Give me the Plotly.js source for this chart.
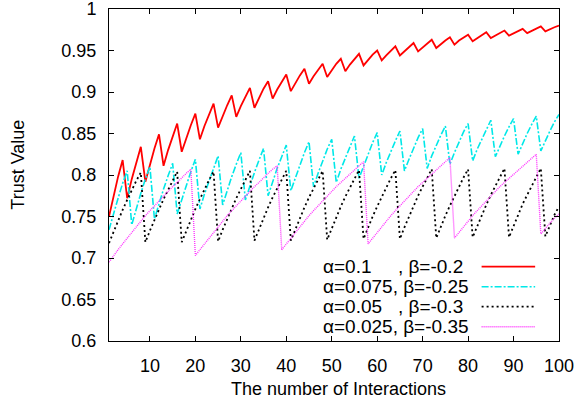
<!DOCTYPE html>
<html>
<head>
<meta charset="utf-8">
<script src="https://cdn.plot.ly/plotly-3.0.1.min.js"></script>
<style>html,body{margin:0;padding:0;background:#fff;}#chart{width:577px;height:407px;}</style>
</head>
<body>
<div id="chart"></div>
<script>
var interactions = [1,2,3,4,5,6,7,8,9,10,11,12,13,14,15,16,17,18,19,20,
21,22,23,24,25,26,27,28,29,30,31,32,33,34,35,36,37,38,39,40,
41,42,43,44,45,46,47,48,49,50,51,52,53,54,55,56,57,58,59,60,
61,62,63,64,65,66,67,68,69,70,71,72,73,74,75,76,77,78,79,80,
81,82,83,84,85,86,87,88,89,90,91,92,93,94,95,96,97,98,99,100];

var trustA01 = [0.750,0.775,0.798,0.818,0.772,0.795,0.816,0.834,0.792,0.813,
0.832,0.849,0.811,0.830,0.847,0.862,0.828,0.845,0.860,0.874,
0.843,0.859,0.873,0.886,0.857,0.871,0.884,0.896,0.870,0.883,
0.894,0.905,0.881,0.893,0.904,0.913,0.892,0.903,0.912,0.921,
0.901,0.911,0.920,0.928,0.910,0.919,0.927,0.934,0.918,0.926,
0.934,0.940,0.925,0.933,0.940,0.946,0.932,0.939,0.945,0.950,
0.938,0.944,0.950,0.955,0.944,0.949,0.954,0.959,0.949,0.954,
0.958,0.963,0.953,0.958,0.962,0.966,0.957,0.962,0.965,0.969,
0.961,0.965,0.968,0.972,0.965,0.968,0.971,0.974,0.968,0.971,
0.974,0.976,0.971,0.974,0.976,0.979,0.973,0.976,0.978,0.980];

var trustA0075 = [0.734,0.754,0.772,0.790,0.805,0.740,0.760,0.778,0.795,0.810,
0.747,0.766,0.783,0.799,0.814,0.753,0.771,0.788,0.804,0.819,
0.759,0.777,0.793,0.809,0.823,0.764,0.782,0.798,0.813,0.827,
0.770,0.787,0.803,0.818,0.832,0.775,0.792,0.808,0.822,0.836,
0.781,0.797,0.812,0.827,0.840,0.786,0.802,0.817,0.831,0.843,
0.791,0.807,0.821,0.835,0.847,0.796,0.811,0.826,0.839,0.851,
0.800,0.815,0.829,0.841,0.853,0.805,0.819,0.833,0.845,0.856,
0.808,0.823,0.836,0.848,0.859,0.813,0.827,0.840,0.852,0.862,
0.817,0.831,0.843,0.855,0.866,0.822,0.835,0.847,0.858,0.868,
0.825,0.838,0.850,0.861,0.871,0.829,0.842,0.853,0.864,0.873];

var trustA005 = [0.718,0.732,0.746,0.758,0.770,0.782,0.793,0.803,
0.719,0.733,0.746,0.759,0.771,0.782,0.793,0.804,
0.719,0.733,0.747,0.759,0.771,0.783,0.794,0.804,
0.720,0.734,0.747,0.760,0.772,0.783,0.794,0.805,
0.721,0.735,0.748,0.761,0.773,0.784,0.795,0.805,
0.721,0.735,0.749,0.761,0.773,0.784,0.795,0.805,
0.722,0.736,0.749,0.762,0.774,0.785,0.796,0.806,
0.723,0.737,0.750,0.762,0.774,0.785,0.796,0.806,
0.723,0.737,0.750,0.763,0.775,0.786,0.797,0.807,
0.724,0.738,0.751,0.763,0.775,0.786,0.797,0.807,
0.725,0.738,0.752,0.764,0.776,0.787,0.798,0.808,
0.725,0.739,0.752,0.765,0.776,0.787,0.798,0.808,
0.726,0.740,0.752,0.762];

var trustA0025 = [0.695,0.703,0.710,0.717,0.724,0.731,0.738,0.745,0.751,0.757,0.763,0.769,0.775,0.781,0.786,0.791,0.797,0.802,0.807,
0.703,0.710,0.717,0.724,0.731,0.738,0.744,0.751,0.757,0.763,0.769,0.775,0.781,0.786,0.791,0.797,0.802,0.807,0.811,
0.710,0.717,0.724,0.731,0.738,0.744,0.751,0.757,0.763,0.769,0.775,0.780,0.786,0.791,0.796,0.802,0.807,0.811,0.816,
0.717,0.724,0.731,0.738,0.744,0.751,0.757,0.763,0.769,0.775,0.780,0.786,0.791,0.796,0.801,0.806,0.811,0.816,0.821,
0.724,0.731,0.738,0.744,0.751,0.757,0.763,0.769,0.775,0.780,0.786,0.791,0.796,0.801,0.806,0.811,0.816,0.821,0.825,
0.729,0.736,0.742,0.748,0.753];

var seriesNames = ["\u03b1=0.1\u00a0\u00a0\u00a0\u00a0\u00a0, \u03b2=-0.2",
                   "\u03b1=0.075, \u03b2=-0.25",
                   "\u03b1=0.05\u00a0\u00a0\u00a0, \u03b2=-0.3",
                   "\u03b1=0.025, \u03b2=-0.35"];
var xTickVals = [10,20,30,40,50,60,70,80,90,100];
var yTickVals = [0.6,0.65,0.7,0.75,0.8,0.85,0.9,0.95,1];
var yTickText = ["0.6","0.65","0.7","0.75","0.8","0.85","0.9","0.95","1"];

var colors = ["#ff0000","#00e8e8","#000000","#ff33ff"];
var dashes = ["solid","7px,2px,2px,2px","2px,3px","1px,1px"];
var widths = [1.8,1.6,1.8,1.4];
var ys = [trustA01, trustA0075, trustA005, trustA0025];

var FONT = "Liberation Sans, Arial, Helvetica, sans-serif";
var traces = ys.map(function(y, i){
  return {x: interactions, y: y, type: "scatter", mode: "lines", name: seriesNames[i],
          line: {color: colors[i], width: widths[i], dash: dashes[i]}, showlegend: false};
});

var annotations = [];
var shapes = [];
var rowY = [0.2238, 0.1636, 0.1033, 0.0431];
for (var i = 0; i < 4; i++) {
  annotations.push({text: seriesNames[i], xref: "paper", yref: "paper", x: 0.47, y: rowY[i],
    xanchor: "left", yanchor: "middle", showarrow: false, font: {family: FONT, size: 19, color: "#000"}});
  shapes.push({type: "line", xref: "paper", yref: "paper", x0: 0.828, x1: 0.947, y0: rowY[i], y1: rowY[i],
    line: {color: colors[i], width: widths[i], dash: dashes[i]}});
}
annotations.push({text: "Trust Value", xref: "paper", yref: "paper", x: -0.203, y: 0.53, textangle: -90,
  xanchor: "center", yanchor: "middle", showarrow: false, font: {family: FONT, size: 18, color: "#000"}});
annotations.push({text: "The number of Interactions", xref: "paper", yref: "paper", x: 0.51, y: -0.145,
  xanchor: "center", yanchor: "middle", showarrow: false, font: {family: FONT, size: 18, color: "#000"}});

var layout = {
  width: 577, height: 407,
  margin: {l: 109, r: 18, t: 9, b: 66},
  paper_bgcolor: "#fff", plot_bgcolor: "#fff",
  font: {family: FONT, size: 18, color: "#000"},
  xaxis: {range: [1, 100], tickvals: xTickVals, ticks: "inside", ticklen: 5, tickwidth: 1, tickcolor: "#000",
          showline: true, linecolor: "#000", linewidth: 1, mirror: "ticks", showgrid: false, zeroline: false,
          ticklabelstandoff: 8, ticklabeloverflow: "allow"},
  yaxis: {range: [0.6, 1], tickvals: yTickVals, ticktext: yTickText, ticks: "inside", ticklen: 5, tickwidth: 1, tickcolor: "#000",
          showline: true, linecolor: "#000", linewidth: 1, mirror: "ticks", showgrid: false, zeroline: false,
          ticklabelstandoff: 8, ticklabeloverflow: "allow"},
  annotations: annotations,
  shapes: shapes,
  showlegend: false
};
Plotly.newPlot("chart", traces, layout, {staticPlot: true});
</script>
</body>
</html>
